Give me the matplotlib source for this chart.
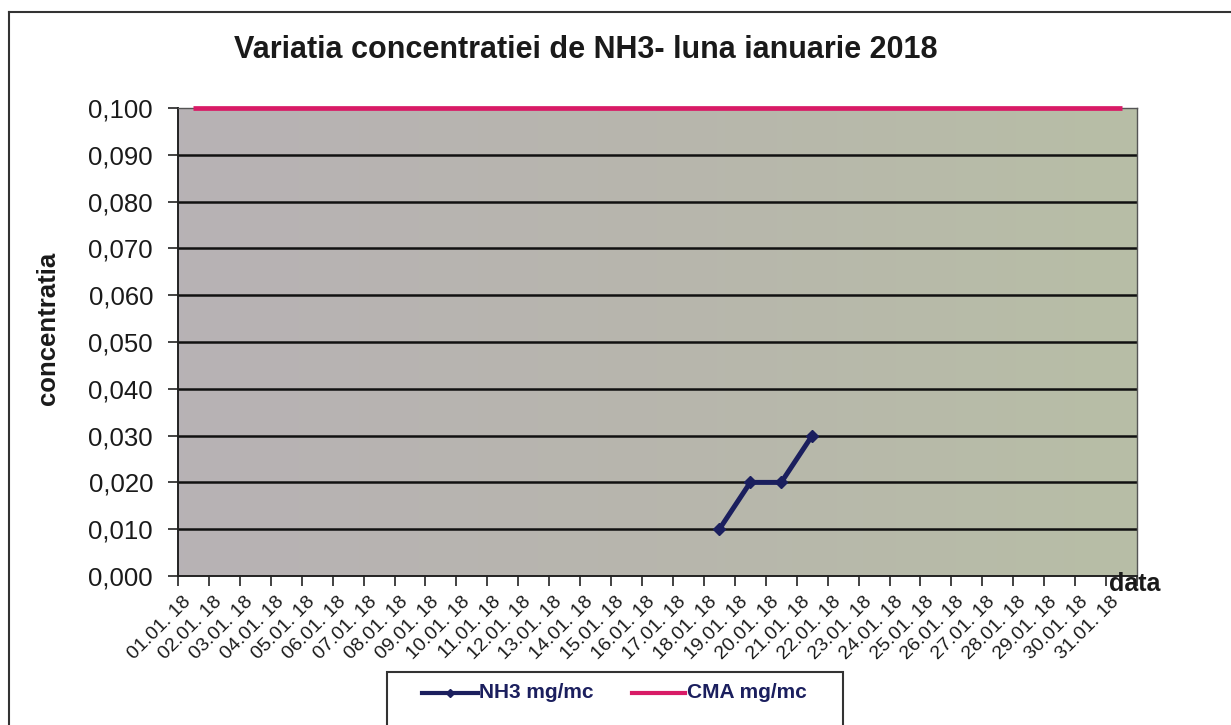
import matplotlib
matplotlib.use('Agg')
import matplotlib.pyplot as plt
import numpy as np
from matplotlib.lines import Line2D
from matplotlib.patches import Rectangle
from matplotlib.colors import LinearSegmentedColormap
from matplotlib.transforms import ScaledTranslation

plt.rcParams['font.family'] = ['Liberation Sans', 'DejaVu Sans']

dates = ["01.01. 18", "02.01. 18", "03.01. 18", "04.01. 18", "05.01. 18", "06.01. 18",
         "07.01. 18", "08.01. 18", "09.01. 18", "10.01. 18", "11.01. 18", "12.01. 18",
         "13.01. 18", "14.01. 18", "15.01. 18", "16.01. 18", "17.01. 18", "18.01. 18",
         "19.01. 18", "20.01. 18", "21.01. 18", "22.01. 18", "23.01. 18", "24.01. 18",
         "25.01. 18", "26.01. 18", "27.01. 18", "28.01. 18", "29.01. 18", "30.01. 18",
         "31.01. 18"]
nan = np.nan
nh3 = [nan, nan, nan, nan, nan, nan, nan, nan, nan, nan, nan, nan, nan, nan, nan, nan, nan,
       0.010, 0.020, 0.020, 0.030,
       nan, nan, nan, nan, nan, nan, nan, nan, nan, nan]
cma = [0.100, 0.100, 0.100, 0.100, 0.100, 0.100, 0.100, 0.100, 0.100, 0.100, 0.100,
       0.100, 0.100, 0.100, 0.100, 0.100, 0.100, 0.100, 0.100, 0.100, 0.100, 0.100,
       0.100, 0.100, 0.100, 0.100, 0.100, 0.100, 0.100, 0.100, 0.100]
yticks = [0.000, 0.010, 0.020, 0.030, 0.040, 0.050, 0.060, 0.070, 0.080, 0.090, 0.100]
ytick_labels = ["0,000", "0,010", "0,020", "0,030", "0,040", "0,050", "0,060", "0,070",
                "0,080", "0,090", "0,100"]
title = "Variatia concentratiei de NH3- luna ianuarie 2018"
ylabel = "concentratia"
xlabel = "data"
legend_labels = ["NH3 mg/mc", "CMA mg/mc"]

W, H = 1231, 725
fig = plt.figure(figsize=(W / 100, H / 100), dpi=100)
fig.patch.set_facecolor('white')

def fx(px):
    return px / W

def fy(py):
    return (H - py) / H

L, R, T, B = 178, 1137, 108, 576
ax = fig.add_axes([fx(L), fy(B), fx(R - L), (B - T) / H])

# background gradient
cmap = LinearSegmentedColormap.from_list('bg', ['#b7b2b5', '#b8b6ad', '#b7bea6'])
grad = np.linspace(0, 1, 256).reshape(1, -1)
x = np.arange(len(dates))
ax.set_xlim(-0.5, len(dates) - 0.5)
ax.set_ylim(0, 0.100)
ax.imshow(grad, cmap=cmap, aspect='auto', extent=(-0.5, len(dates) - 0.5, 0, 0.1),
          zorder=0, interpolation='bilinear')

for yv in yticks[1:-1]:
    ax.axhline(yv, color='#111111', lw=1.8, zorder=1)

ax.plot(x, cma, color='#d81b66', lw=3.4, zorder=3, solid_capstyle='butt', clip_on=False)
ax.plot(x, nh3, color='#1b1f5e', lw=3.6, marker='D', markersize=6.5, zorder=4)

ax.set_yticks(yticks)
ax.set_yticklabels(ytick_labels, fontsize=18.5, color='#1a1a1a')
ax.tick_params(axis='y', direction='out', length=7, width=1.2, pad=11, color='#222222')

ax.set_xticks(x)
ax.set_xticklabels(dates, fontsize=14, rotation=45, ha='right', va='center',
                   rotation_mode='anchor', color='#1a1a1a')
ax.tick_params(axis='x', which='major', length=0, pad=17)
offset = ScaledTranslation(-5 / 100, 0, fig.dpi_scale_trans)
for lab in ax.get_xticklabels():
    lab.set_transform(lab.get_transform() + offset)
ax.set_xticks(np.arange(-0.5, len(dates), 1), minor=True)
ax.tick_params(axis='x', which='minor', direction='out', length=7, width=1.2, color='#222222')

for s in ['left', 'bottom']:
    ax.spines[s].set_color('#222222')
    ax.spines[s].set_linewidth(1.4)
for s in ['top', 'right']:
    ax.spines[s].set_color('#555555')
    ax.spines[s].set_linewidth(1.0)

fig.text(fx(586), fy(50), title, fontsize=22, fontweight='bold', ha='center', va='center',
         color='#1a1a1a')
fig.text(fx(48), fy(328), ylabel, fontsize=18.5, fontweight='bold', rotation=90,
         ha='center', va='center', color='#1a1a1a')
fig.text(fx(1109), fy(584), xlabel, fontsize=18, fontweight='bold', ha='left',
         va='center', color='#1a1a1a')

# outer frame (left and top visible)
fig.add_artist(Line2D([fx(9), fx(9)], [fy(12), fy(725)], color='#333333', lw=1.5))
fig.add_artist(Line2D([fx(9), fx(1231)], [fy(12), fy(12)], color='#333333', lw=1.5))

# legend box
fig.add_artist(Rectangle((fx(387), fy(740)), fx(843 - 387), (740 - 672) / H,
                         facecolor='white', edgecolor='#333333', lw=1.5))
fig.add_artist(Line2D([fx(422), fx(450), fx(478)], [fy(693)] * 3,
                      color='#1b1f5e', lw=3, marker='D', markersize=4,
                      markevery=[1], zorder=5))
fig.text(fx(479), fy(693), legend_labels[0], fontsize=15, fontweight='bold',
         ha='left', va='center', color='#1b1f5e')
fig.add_artist(Line2D([fx(632), fx(685)], [fy(693), fy(693)], color='#d81b66', lw=3, zorder=5))
fig.text(fx(687), fy(693), legend_labels[1], fontsize=15, fontweight='bold',
         ha='left', va='center', color='#1b1f5e')

fig.savefig('out.png', dpi=100)
